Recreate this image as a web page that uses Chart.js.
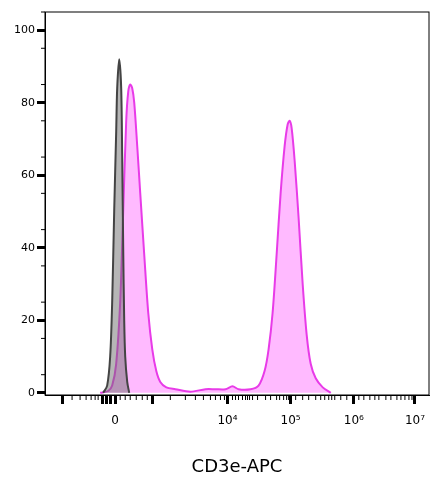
<!DOCTYPE html>
<html><head><meta charset="utf-8">
<script src="https://cdn.jsdelivr.net/npm/chart.js@4"></script>
<style>html,body{margin:0;background:#fff}#c{width:441px;height:480px}</style>
</head><body><div id="c"><canvas id="g"></canvas></div>
<script>
// channel units of the transformed CD3e-APC axis
const pinkX = [100,108,112,116,120,123,126,128,130,132,134,137,140,144,148,152,156,160,166,175,190,205,215,225,232,238,250,258,264,268,272,276,280,284,287,289,291,294,298,302,306,310,315,322,330];
const pinkY = [0,0.5,2,8,25,50,75,83,85,84,80,68,55,38,22,12,6,3,1.5,1,0.3,1,1,1,1.8,1,1,2,6,12,22,38,55,68,74,75,73,64,48,30,16,8,4,1.5,0];
const grayX = [103,107,110,112,114,116,117,119,121,122,123,124,125,127,129];
const grayY = [0,2,10,25,50,72,84,92,84,65,40,20,10,3,0];
const majorTicks = [62,102,106,110,115,152,227,290,353,414];
const tickLabels = {115:"0",227:"10⁴",290:"10⁵",353:"10⁶",414:"10⁷"};
const minorTicks = [72,80,86,91,95,98,120,125,130,136,142,147,170,185,195,203,210,215,220,224,232,235,238,242,245,247,249,252,257,265,270,276,279,283,286,288,295,302,308,315,320,324,328,331,334,340,346,352,358,363,369,374,378,385,390,396,400,404,408,411];
const yMinor = [5,15,25,35,45,55,65,75,85,95,105];

const pts = (xs, ys) => xs.map((x, i) => ({x, y: ys[i]}));

const frame = {
  id: 'frame',
  afterDraw(chart) {
    const {ctx, chartArea: a, scales: {x, y}} = chart;
    ctx.save();
    ctx.strokeStyle = '#000';
    ctx.lineWidth = 1;
    ctx.strokeRect(a.left, a.top, a.right - a.left, a.bottom - a.top);
    minorTicks.forEach(v => {
      const p = x.getPixelForValue(v);
      ctx.beginPath(); ctx.moveTo(p, a.bottom); ctx.lineTo(p, a.bottom + 5); ctx.stroke();
    });
    yMinor.forEach(v => {
      const p = y.getPixelForValue(v);
      if (p < a.top) return;
      ctx.beginPath(); ctx.moveTo(a.left, p); ctx.lineTo(a.left - 4, p); ctx.stroke();
    });
    ctx.restore();
  }
};

new Chart(document.getElementById('g'), {
  type: 'line',
  data: {
    datasets: [
      {data: pts(grayX, grayY), borderColor: '#444', backgroundColor: 'rgba(110,110,110,0.5)', fill: 'origin', borderWidth: 2, pointRadius: 0, tension: 0.3},
      {data: pts(pinkX, pinkY), borderColor: '#e83be8', backgroundColor: 'rgba(255,140,255,0.6)', fill: 'origin', borderWidth: 2, pointRadius: 0, tension: 0.3}
    ]
  },
  options: {
    responsive: true, maintainAspectRatio: false, animation: false,
    layout: {padding: {top: 12, right: 12, bottom: 2}},
    plugins: {legend: {display: false}, tooltip: {enabled: false}},
    scales: {
      x: {
        type: 'linear', min: 45, max: 428,
        afterBuildTicks: s => { s.ticks = majorTicks.map(v => ({value: v})); },
        ticks: {autoSkip: false, maxRotation: 0, color: '#000', font: {family: 'DejaVu Sans', size: 12}, padding: 10,
          callback: v => tickLabels[v] || ''},
        grid: {display: true, drawOnChartArea: false, tickLength: 9, tickWidth: 3, tickColor: '#000'},
        border: {color: '#000'},
        title: {display: true, text: 'CD3e-APC', color: '#000', font: {family: 'DejaVu Sans', size: 18}, padding: {top: 18, bottom: 0}}
      },
      y: {
        min: -0.6, max: 105,
        afterBuildTicks: s => { s.ticks = [0,20,40,60,80,100].map(v => ({value: v})); },
        afterFit: s => { s.width = 45; },
        ticks: {color: '#000', font: {family: 'DejaVu Sans', size: 11}, padding: 2},
        grid: {drawOnChartArea: false, tickLength: 8, tickWidth: 3, tickColor: '#000'},
        border: {color: '#000'}
      }
    }
  },
  plugins: [frame]
});
</script></body></html>
